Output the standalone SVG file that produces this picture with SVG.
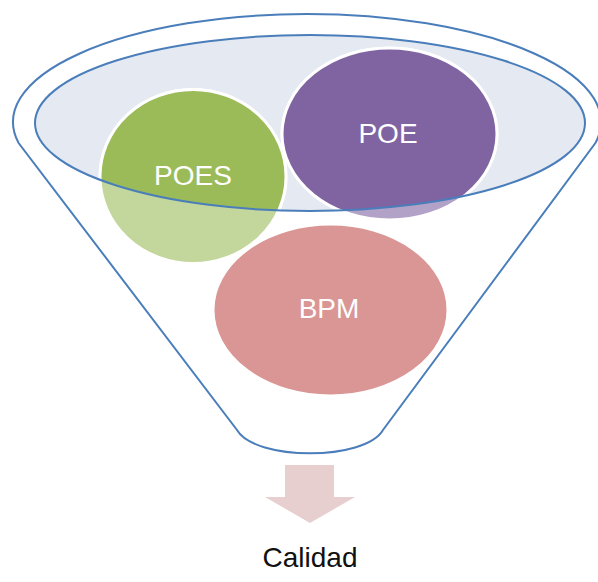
<svg xmlns="http://www.w3.org/2000/svg" width="598" height="582" viewBox="0 0 598 582">
  <style>
    .outline { fill: none; stroke: #4a7ebb; stroke-width: 2; }
    .ring { stroke: #ffffff; stroke-width: 3; }
    .label { font-family: "Liberation Sans", Arial, sans-serif; font-size: 28px; fill: #ffffff; text-anchor: middle; }
    .caption { font-family: "Liberation Sans", Arial, sans-serif; font-size: 28px; fill: #111111; text-anchor: middle; }
  </style>
  <defs>
    <clipPath id="openingClip">
      <ellipse cx="310" cy="123" rx="275" ry="88"/>
    </clipPath>
  </defs>
  <rect width="598" height="582" fill="#ffffff"/>

  <g id="funnel">
    <path d="M18.6,143 A294,108 0 1 1 595.4,143 L383,430 C365,461 255,461 237,430 Z" fill="#ffffff" stroke="#4a7ebb" stroke-width="2"/>
    <ellipse cx="310" cy="123" rx="275" ry="88" fill="#e5e9f2"/>
  </g>

  <g id="node-poes">
    <ellipse class="ring" cx="193" cy="176.5" rx="93" ry="87" fill="#c3d69b"/>
    <ellipse class="ring" cx="193" cy="176.5" rx="93" ry="87" fill="#9bbb59" clip-path="url(#openingClip)"/>
    <text class="label" x="193" y="185">POES</text>
  </g>

  <g id="node-poe">
    <ellipse class="ring" cx="389.5" cy="134" rx="107.5" ry="86" fill="#b3a2c7"/>
    <ellipse class="ring" cx="389.5" cy="134" rx="107.5" ry="86" fill="#8064a2" clip-path="url(#openingClip)"/>
    <text class="label" x="388" y="143">POE</text>
  </g>

  <g id="node-bpm">
    <ellipse class="ring" cx="330.5" cy="310" rx="117.5" ry="86" fill="#d99694"/>
    <text class="label" x="329" y="318">BPM</text>
  </g>

  <g id="opening-rim">
    <ellipse class="outline" cx="310" cy="123" rx="275" ry="88"/>
  </g>

  <g id="connectors">
    <polygon points="285,465 334,465 334,497 355,497 310,523 265,497 285,497" fill="#e7cfd0"/>
  </g>

  <g id="node-calidad">
    <text class="caption" x="310" y="567">Calidad</text>
  </g>
</svg>
